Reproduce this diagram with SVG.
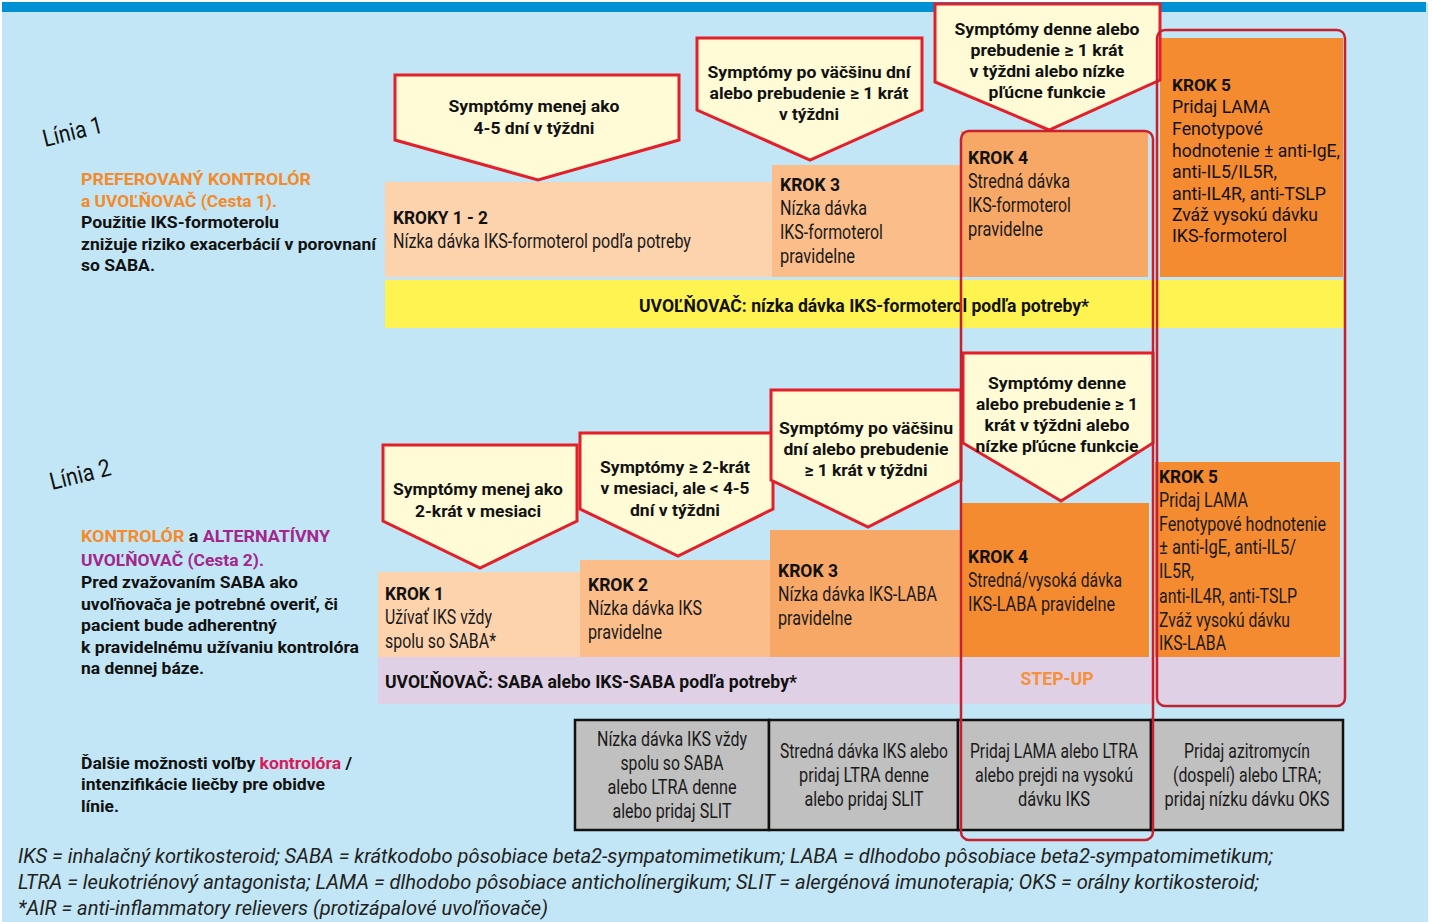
<svg xmlns="http://www.w3.org/2000/svg" width="1432" height="922" viewBox="0 0 1432 922">
<style>
.b{font-family:Roboto,"Liberation Sans",sans-serif;font-weight:700;font-size:17px;fill:#111}
.c{font-family:"Liberation Sans Narrow",Roboto,"Liberation Sans",sans-serif;font-size:19.5px;fill:#1a1a1a}
.cb{font-family:"Liberation Sans Narrow",Roboto,"Liberation Sans",sans-serif;font-weight:700;font-size:18.5px;fill:#111}
.r{font-family:Roboto,"Liberation Sans",sans-serif;font-size:18px;fill:#111}
.fi{font-family:"Liberation Sans Narrow",Roboto,"Liberation Sans",sans-serif;font-style:italic;font-size:19.5px;fill:#222}
.lin{font-family:Roboto,"Liberation Sans",sans-serif;font-size:24px;fill:#111}
.m{text-anchor:middle}
.call{fill:#fffbd6;stroke:#e3202a;stroke-width:3;stroke-linejoin:miter}
.frame{fill:none;stroke:#c8202e;stroke-width:2.5}
.cell{fill:#c0c0c0;stroke:#111;stroke-width:2.5}
.or{fill:#f58a2a}
.pu{fill:#a3268c}
.cr{fill:#d81b5a}
</style>
<rect x="0" y="0" width="1432" height="922" fill="#ffffff"/>
<rect x="2" y="3" width="1426" height="919" fill="#c2e6f5"/>
<rect x="2" y="2" width="1424" height="10" fill="#0090d4"/>

<g id="linia1-label">
<text class="lin" transform="translate(45,147) rotate(-14)" textLength="61" lengthAdjust="spacingAndGlyphs">Línia 1</text>
</g>
<g id="linia1-desc">
<text class="b or" x="81" y="185" textLength="230" lengthAdjust="spacingAndGlyphs">PREFEROVANÝ KONTROLÓR</text>
<text class="b or" x="81" y="207" textLength="196" lengthAdjust="spacingAndGlyphs">a UVOĽŇOVAČ (Cesta 1).</text>
<text class="b" x="81" y="228" textLength="198" lengthAdjust="spacingAndGlyphs">Použitie IKS-formoterolu</text>
<text class="b" x="81" y="250" textLength="295" lengthAdjust="spacingAndGlyphs">znižuje riziko exacerbácií v porovnaní</text>
<text class="b" x="81" y="271" textLength="74" lengthAdjust="spacingAndGlyphs">so SABA.</text>
</g>

<g id="linia2-label">
<text class="lin" transform="translate(52,490) rotate(-14)" textLength="62" lengthAdjust="spacingAndGlyphs">Línia 2</text>
</g>
<g id="linia2-desc">
<text class="b" x="81" y="542" textLength="249" lengthAdjust="spacingAndGlyphs"><tspan class="or">KONTROLÓR</tspan> a <tspan class="pu">ALTERNATÍVNY</tspan></text>
<text class="b pu" x="81" y="566" textLength="183" lengthAdjust="spacingAndGlyphs">UVOĽŇOVAČ (Cesta 2).</text>
<text class="b" x="81" y="588" textLength="217" lengthAdjust="spacingAndGlyphs">Pred zvažovaním SABA ako</text>
<text class="b" x="81" y="610" textLength="257" lengthAdjust="spacingAndGlyphs">uvoľňovača je potrebné overiť, či</text>
<text class="b" x="81" y="631" textLength="196" lengthAdjust="spacingAndGlyphs">pacient bude adherentný</text>
<text class="b" x="81" y="653" textLength="278" lengthAdjust="spacingAndGlyphs">k pravidelnému užívaniu kontrolóra</text>
<text class="b" x="81" y="674" textLength="123" lengthAdjust="spacingAndGlyphs">na dennej báze.</text>
</g>

<g id="other-options-desc">
<text class="b" x="81" y="769" textLength="271" lengthAdjust="spacingAndGlyphs">Ďalšie možnosti voľby <tspan class="cr">kontrolóra</tspan> /</text>
<text class="b" x="81" y="790" textLength="244" lengthAdjust="spacingAndGlyphs">intenzifikácie liečby pre obidve</text>
<text class="b" x="81" y="812" textLength="38" lengthAdjust="spacingAndGlyphs">línie.</text>
</g>

<!-- Línia 1 boxes -->
<g id="l1-kroky12">
<rect x="385" y="182" width="387" height="95" fill="#fdd3ae"/>
<text class="cb" x="393" y="224" textLength="95" lengthAdjust="spacingAndGlyphs">KROKY 1 - 2</text>
<text class="c" x="393" y="248" textLength="298" lengthAdjust="spacingAndGlyphs">Nízka dávka IKS-formoterol podľa potreby</text>
</g>
<g id="l1-krok3">
<rect x="772" y="165" width="189" height="112" fill="#fbbd8a"/>
<text class="cb" x="780" y="191" textLength="60" lengthAdjust="spacingAndGlyphs">KROK 3</text>
<text class="c" x="780" y="215" textLength="87" lengthAdjust="spacingAndGlyphs">Nízka dávka</text>
<text class="c" x="780" y="239" textLength="103" lengthAdjust="spacingAndGlyphs">IKS-formoterol</text>
<text class="c" x="780" y="263" textLength="75" lengthAdjust="spacingAndGlyphs">pravidelne</text>
</g>
<g id="l1-krok4">
<rect x="961" y="131" width="187" height="146" fill="#f8a866"/>
<text class="cb" x="968" y="164" textLength="60" lengthAdjust="spacingAndGlyphs">KROK 4</text>
<text class="c" x="968" y="188" textLength="102" lengthAdjust="spacingAndGlyphs">Stredná dávka</text>
<text class="c" x="968" y="212" textLength="103" lengthAdjust="spacingAndGlyphs">IKS-formoterol</text>
<text class="c" x="968" y="236" textLength="75" lengthAdjust="spacingAndGlyphs">pravidelne</text>
</g>
<g id="l1-krok5">
<rect x="1160" y="38" width="183" height="239" fill="#f58b30"/>
<text class="b" x="1172" y="91" textLength="59" lengthAdjust="spacingAndGlyphs">KROK 5</text>
<text class="r" x="1172" y="113" textLength="98" lengthAdjust="spacingAndGlyphs">Pridaj LAMA</text>
<text class="r" x="1172" y="135" textLength="91" lengthAdjust="spacingAndGlyphs">Fenotypové</text>
<text class="r" x="1172" y="157" textLength="168" lengthAdjust="spacingAndGlyphs">hodnotenie ± anti-IgE,</text>
<text class="r" x="1172" y="178" textLength="105" lengthAdjust="spacingAndGlyphs">anti-IL5/IL5R,</text>
<text class="r" x="1172" y="200" textLength="154" lengthAdjust="spacingAndGlyphs">anti-IL4R, anti-TSLP</text>
<text class="r" x="1172" y="221" textLength="146" lengthAdjust="spacingAndGlyphs">Zváž vysokú dávku</text>
<text class="r" x="1172" y="242" textLength="115" lengthAdjust="spacingAndGlyphs">IKS-formoterol</text>
</g>
<g id="l1-reliever">
<rect x="385" y="280" width="960" height="48" fill="#fef350"/>
<text class="cb m" x="864" y="312" textLength="450" lengthAdjust="spacingAndGlyphs">UVOĽŇOVAČ: nízka dávka IKS-formoterol podľa potreby*</text>
</g>

<!-- Línia 2 boxes -->
<g id="l2-krok1">
<rect x="378" y="572" width="202" height="85" fill="#fdd3ae"/>
<text class="cb" x="385" y="600" textLength="59" lengthAdjust="spacingAndGlyphs">KROK 1</text>
<text class="c" x="385" y="624" textLength="107" lengthAdjust="spacingAndGlyphs">Užívať IKS vždy</text>
<text class="c" x="385" y="648" textLength="111" lengthAdjust="spacingAndGlyphs">spolu so SABA*</text>
</g>
<g id="l2-krok2">
<rect x="580" y="560" width="190" height="97" fill="#fbbd8a"/>
<text class="cb" x="588" y="591" textLength="60" lengthAdjust="spacingAndGlyphs">KROK 2</text>
<text class="c" x="588" y="615" textLength="114" lengthAdjust="spacingAndGlyphs">Nízka dávka IKS</text>
<text class="c" x="588" y="639" textLength="74" lengthAdjust="spacingAndGlyphs">pravidelne</text>
</g>
<g id="l2-krok3">
<rect x="770" y="530" width="190" height="127" fill="#f8a866"/>
<text class="cb" x="778" y="577" textLength="60" lengthAdjust="spacingAndGlyphs">KROK 3</text>
<text class="c" x="778" y="601" textLength="159" lengthAdjust="spacingAndGlyphs">Nízka dávka IKS-LABA</text>
<text class="c" x="778" y="625" textLength="74" lengthAdjust="spacingAndGlyphs">pravidelne</text>
</g>
<g id="l2-krok4">
<rect x="961" y="503" width="188" height="154" fill="#f58b30"/>
<text class="cb" x="968" y="563" textLength="60" lengthAdjust="spacingAndGlyphs">KROK 4</text>
<text class="c" x="968" y="587" textLength="154" lengthAdjust="spacingAndGlyphs">Stredná/vysoká dávka</text>
<text class="c" x="968" y="611" textLength="147" lengthAdjust="spacingAndGlyphs">IKS-LABA pravidelne</text>
</g>
<g id="l2-krok5">
<rect x="1155" y="462" width="185" height="195" fill="#f58b30"/>
<text class="cb" x="1159" y="483" textLength="59" lengthAdjust="spacingAndGlyphs">KROK 5</text>
<text class="c" x="1159" y="507" textLength="89" lengthAdjust="spacingAndGlyphs">Pridaj LAMA</text>
<text class="c" x="1159" y="531" textLength="167" lengthAdjust="spacingAndGlyphs">Fenotypové hodnotenie</text>
<text class="c" x="1159" y="554" textLength="137" lengthAdjust="spacingAndGlyphs">± anti-IgE, anti-IL5/</text>
<text class="c" x="1159" y="578" textLength="35" lengthAdjust="spacingAndGlyphs">IL5R,</text>
<text class="c" x="1159" y="603" textLength="138" lengthAdjust="spacingAndGlyphs">anti-IL4R, anti-TSLP</text>
<text class="c" x="1159" y="627" textLength="131" lengthAdjust="spacingAndGlyphs">Zváž vysokú dávku</text>
<text class="c" x="1159" y="650" textLength="67" lengthAdjust="spacingAndGlyphs">IKS-LABA</text>
</g>
<g id="l2-reliever">
<rect x="378" y="657" width="967" height="47" fill="#e0d0e6"/>
<text class="cb" x="385" y="688" textLength="412" lengthAdjust="spacingAndGlyphs">UVOĽŇOVAČ: SABA alebo IKS-SABA podľa potreby*</text>
<text class="cb m" x="1057" y="685" textLength="73" lengthAdjust="spacingAndGlyphs" style="fill:#f5913a">STEP-UP</text>
</g>

<!-- callouts Línia 1 -->
<g id="l1-callout-a">
<polygon class="call" points="395,75 679,75 679,140 538,180 395,140"/>
<text class="b m" x="534" y="112" textLength="171" lengthAdjust="spacingAndGlyphs">Symptómy menej ako</text>
<text class="b m" x="534" y="134" textLength="121" lengthAdjust="spacingAndGlyphs">4-5 dní v týždni</text>
</g>
<g id="l1-callout-b">
<polygon class="call" points="697,38 922,38 922,110 810,160 697,110"/>
<text class="b m" x="809" y="78" textLength="203" lengthAdjust="spacingAndGlyphs">Symptómy po väčšinu dní</text>
<text class="b m" x="809" y="99" textLength="199" lengthAdjust="spacingAndGlyphs">alebo prebudenie ≥ 1 krát</text>
<text class="b m" x="809" y="120" textLength="60" lengthAdjust="spacingAndGlyphs">v týždni</text>
</g>
<g id="l1-callout-c">
<polygon class="call" points="935,4 1160,4 1160,80 1049,130 935,82"/>
<text class="b m" x="1047" y="35" textLength="185" lengthAdjust="spacingAndGlyphs">Symptómy denne alebo</text>
<text class="b m" x="1047" y="56" textLength="153" lengthAdjust="spacingAndGlyphs">prebudenie ≥ 1 krát</text>
<text class="b m" x="1047" y="77" textLength="155" lengthAdjust="spacingAndGlyphs">v týždni alebo nízke</text>
<text class="b m" x="1047" y="98" textLength="117" lengthAdjust="spacingAndGlyphs">pľúcne funkcie</text>
</g>

<!-- callouts Línia 2 -->
<g id="l2-callout-d">
<polygon class="call" points="383,445 577,445 577,521 480,568 383,521"/>
<text class="b m" x="478" y="495" textLength="170" lengthAdjust="spacingAndGlyphs">Symptómy menej ako</text>
<text class="b m" x="478" y="517" textLength="126" lengthAdjust="spacingAndGlyphs">2-krát v mesiaci</text>
</g>
<g id="l2-callout-e">
<polygon class="call" points="580,433 773,433 773,509 678,556 580,509"/>
<text class="b m" x="675" y="473" textLength="150" lengthAdjust="spacingAndGlyphs">Symptómy ≥ 2-krát</text>
<text class="b m" x="675" y="494" textLength="149" lengthAdjust="spacingAndGlyphs">v mesiaci, ale &lt; 4-5</text>
<text class="b m" x="675" y="516" textLength="90" lengthAdjust="spacingAndGlyphs">dní v týždni</text>
</g>
<g id="l2-callout-f">
<polygon class="call" points="771,390 961,390 961,480 868,527 771,480"/>
<text class="b m" x="866" y="434" textLength="174" lengthAdjust="spacingAndGlyphs">Symptómy po väčšinu</text>
<text class="b m" x="866" y="455" textLength="165" lengthAdjust="spacingAndGlyphs">dní alebo prebudenie</text>
<text class="b m" x="866" y="476" textLength="123" lengthAdjust="spacingAndGlyphs">≥ 1 krát v týždni</text>
</g>
<g id="l2-callout-g">
<polygon class="call" points="963,353 1153,353 1153,443 1061,501 963,443"/>
<text class="b m" x="1057" y="389" textLength="138" lengthAdjust="spacingAndGlyphs">Symptómy denne</text>
<text class="b m" x="1057" y="410" textLength="162" lengthAdjust="spacingAndGlyphs">alebo prebudenie ≥ 1</text>
<text class="b m" x="1057" y="431" textLength="145" lengthAdjust="spacingAndGlyphs">krát v týždni alebo</text>
<text class="b m" x="1057" y="452" textLength="163" lengthAdjust="spacingAndGlyphs">nízke pľúcne funkcie</text>
</g>

<!-- additional options table -->
<g id="opt-1">
<rect class="cell" x="575" y="720" width="194" height="110"/>
<text class="c m" x="672" y="746" textLength="150" lengthAdjust="spacingAndGlyphs">Nízka dávka IKS vždy</text>
<text class="c m" x="672" y="770" textLength="103" lengthAdjust="spacingAndGlyphs">spolu so SABA</text>
<text class="c m" x="672" y="794" textLength="129" lengthAdjust="spacingAndGlyphs">alebo LTRA denne</text>
<text class="c m" x="672" y="818" textLength="119" lengthAdjust="spacingAndGlyphs">alebo pridaj SLIT</text>
</g>
<g id="opt-2">
<rect class="cell" x="769" y="720" width="189" height="110"/>
<text class="c m" x="864" y="758" textLength="168" lengthAdjust="spacingAndGlyphs">Stredná dávka IKS alebo</text>
<text class="c m" x="864" y="782" textLength="130" lengthAdjust="spacingAndGlyphs">pridaj LTRA denne</text>
<text class="c m" x="864" y="806" textLength="119" lengthAdjust="spacingAndGlyphs">alebo pridaj SLIT</text>
</g>
<g id="opt-3">
<rect class="cell" x="958" y="720" width="193" height="110"/>
<text class="c m" x="1054" y="758" textLength="168" lengthAdjust="spacingAndGlyphs">Pridaj LAMA alebo LTRA</text>
<text class="c m" x="1054" y="782" textLength="158" lengthAdjust="spacingAndGlyphs">alebo prejdi na vysokú</text>
<text class="c m" x="1054" y="806" textLength="72" lengthAdjust="spacingAndGlyphs">dávku IKS</text>
</g>
<g id="opt-4">
<rect class="cell" x="1151" y="720" width="192" height="110"/>
<text class="c m" x="1247" y="758" textLength="126" lengthAdjust="spacingAndGlyphs">Pridaj azitromycín</text>
<text class="c m" x="1247" y="782" textLength="148" lengthAdjust="spacingAndGlyphs">(dospelí) alebo LTRA;</text>
<text class="c m" x="1247" y="806" textLength="165" lengthAdjust="spacingAndGlyphs">pridaj nízku dávku OKS</text>
</g>

<!-- highlight frames -->
<g id="frames">
<rect class="frame" x="961" y="131" width="192" height="709" rx="8"/>
<rect class="frame" x="1157" y="30" width="188" height="676" rx="8"/>
</g>

<g id="footnote">
<text class="fi" x="18" y="863" textLength="1255" lengthAdjust="spacingAndGlyphs">IKS = inhalačný kortikosteroid; SABA = krátkodobo pôsobiace beta2-sympatomimetikum; LABA = dlhodobo pôsobiace beta2-sympatomimetikum;</text>
<text class="fi" x="18" y="889" textLength="1241" lengthAdjust="spacingAndGlyphs">LTRA = leukotriénový antagonista; LAMA = dlhodobo pôsobiace anticholínergikum; SLIT = alergénová imunoterapia; OKS = orálny kortikosteroid;</text>
<text class="fi" x="18" y="915" textLength="530" lengthAdjust="spacingAndGlyphs">*AIR = anti-inflammatory relievers (protizápalové uvoľňovače)</text>
</g>
</svg>
